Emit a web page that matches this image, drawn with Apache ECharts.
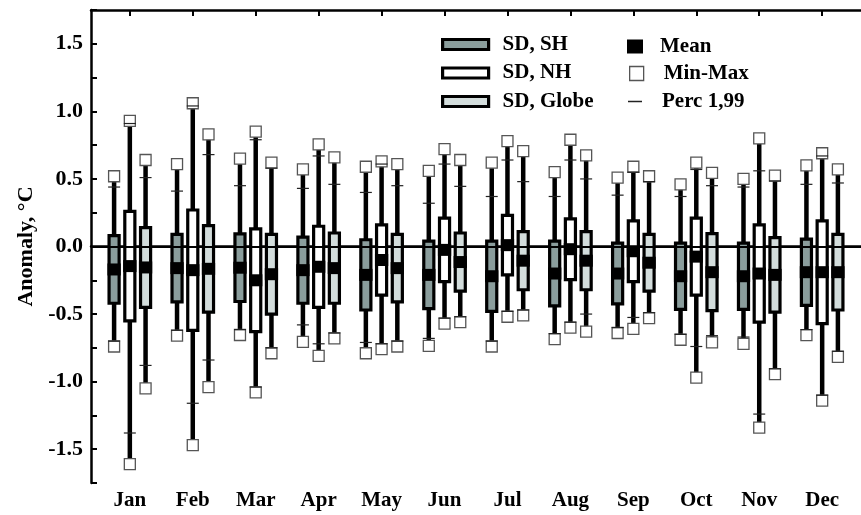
<!DOCTYPE html>
<html>
<head>
<meta charset="utf-8">
<script src="https://cdn.jsdelivr.net/npm/echarts@6/dist/echarts.min.js"></script>
<style>html,body{margin:0;padding:0;background:#fff;}#c{width:861px;height:515px;}</style>
</head>
<body>
<div id="c"></div>
<script>
// ---------- DATA ----------
const months = ['Jan','Feb','Mar','Apr','May','Jun','Jul','Aug','Sep','Oct','Nov','Dec'];
const yTicks = [-1.5,-1.0,-0.5,0.0,0.5,1.0,1.5];

const shMean = [-0.17,-0.16,-0.157,-0.175,-0.21,-0.21,-0.22,-0.20,-0.20,-0.22,-0.22,-0.19];
const shSD   = [0.25,0.25,0.25,0.245,0.26,0.25,0.26,0.24,0.225,0.245,0.245,0.245];
const shMax  = [0.52,0.61,0.65,0.57,0.59,0.56,0.62,0.55,0.51,0.46,0.50,0.60];
const shP99  = [0.44,0.41,0.45,0.43,0.40,0.32,0.37,0.37,0.38,0.37,0.44,0.46];
const shP1   = [-0.70,-0.62,-0.615,-0.58,-0.71,-0.68,-0.70,-0.645,-0.60,-0.65,-0.67,-0.615];
const shMin  = [-0.74,-0.66,-0.655,-0.705,-0.79,-0.735,-0.74,-0.685,-0.64,-0.69,-0.72,-0.656];

const nhMean = [-0.145,-0.175,-0.25,-0.15,-0.10,-0.025,0.01,-0.02,-0.035,-0.075,-0.20,-0.19];
const nhSD   = [0.405,0.445,0.38,0.30,0.26,0.235,0.22,0.225,0.225,0.285,0.36,0.38];
const nhMax  = [0.93,1.06,0.85,0.755,0.63,0.72,0.78,0.79,0.59,0.62,0.80,0.69];
const nhP99  = [0.91,1.04,0.79,0.67,0.61,0.61,0.64,0.64,0.55,0.57,0.56,0.67];
const nhP1   = [-1.38,-1.16,-1.04,-0.72,-0.72,-0.53,-0.48,-0.56,-0.525,-0.74,-1.24,-1.10];
const nhMin  = [-1.61,-1.47,-1.08,-0.81,-0.76,-0.57,-0.52,-0.60,-0.61,-0.97,-1.34,-1.14];

const glMean = [-0.155,-0.165,-0.205,-0.16,-0.16,-0.115,-0.105,-0.105,-0.12,-0.19,-0.21,-0.19];
const glSD   = [0.295,0.32,0.295,0.26,0.25,0.215,0.215,0.215,0.21,0.285,0.275,0.28];
const glMax  = [0.64,0.83,0.62,0.66,0.61,0.64,0.705,0.675,0.52,0.545,0.525,0.57];
const glP99  = [0.51,0.68,0.58,0.46,0.45,0.445,0.48,0.50,0.48,0.45,0.485,0.47];
const glP1   = [-0.88,-0.84,-0.75,-0.64,-0.70,-0.52,-0.47,-0.50,-0.49,-0.66,-0.905,-0.775];
const glMin  = [-1.05,-1.04,-0.79,-0.68,-0.74,-0.56,-0.51,-0.63,-0.53,-0.71,-0.945,-0.817];

// ---------- STYLE ----------
const FONT = "'Liberation Serif', 'DejaVu Serif', serif";
const fills = ['#8a9d9c', '#ffffff', '#d3dddc'];
const groupNames = ['SD, SH', 'SD, NH', 'SD, Globe'];
const groups = [
  {mean: shMean, sd: shSD, max: shMax, p99: shP99, p1: shP1, min: shMin},
  {mean: nhMean, sd: nhSD, max: nhMax, p99: nhP99, p1: nhP1, min: nhMin},
  {mean: glMean, sd: glSD, max: glMax, p99: glP99, p1: glP1, min: glMin}
];
const GROUP_SHIFT = 0.25;   // fraction of month spacing
const BOX_W = 0.16;         // fraction of month spacing

function centerX(api, m, g) {
  const band = api.size([1, 0])[0];
  return api.coord([m, 0])[0] + (g - 1) * GROUP_SHIFT * band;
}

function boxSeries(g) {
  const G = groups[g];
  return {
    type: 'custom', name: groupNames[g], z: 2,
    itemStyle: {color: fills[g]},
    data: months.map((_, i) => [i + 1, G.mean[i], G.sd[i], G.min[i], G.max[i]]),
    renderItem: function (params, api) {
      const m = api.value(0), mean = api.value(1), sd = api.value(2);
      const band = api.size([1, 0])[0];
      const xc = centerX(api, m, g);
      const yTop = api.coord([m, mean + sd])[1];
      const yBot = api.coord([m, mean - sd])[1];
      const yMin = api.coord([m, api.value(3)])[1];
      const yMax = api.coord([m, api.value(4)])[1];
      const bw = BOX_W * band;
      return {
        type: 'group',
        children: [
          {type: 'line', shape: {x1: xc, y1: yMin, x2: xc, y2: yMax}, style: {stroke: '#000', lineWidth: 4.5}},
          {type: 'rect', shape: {x: xc - bw / 2, y: yTop, width: bw, height: yBot - yTop},
           style: {fill: fills[g], stroke: '#000', lineWidth: 3.2}}
        ]
      };
    }
  };
}

const meanData = [], mmData = [], percData = [];
groups.forEach((G, g) => {
  months.forEach((_, i) => {
    meanData.push([i + 1, g, G.mean[i]]);
    mmData.push([i + 1, g, G.min[i]]);
    mmData.push([i + 1, g, G.max[i]]);
    percData.push([i + 1, g, G.p1[i]]);
    percData.push([i + 1, g, G.p99[i]]);
  });
});

const series = [boxSeries(0), boxSeries(1), boxSeries(2),
  {
    type: 'custom', name: 'Mean', z: 3, itemStyle: {color: '#000'}, data: meanData,
    renderItem: function (params, api) {
      const m = api.value(0), g = api.value(1);
      const xc = centerX(api, m, g);
      const y = api.coord([m, api.value(2)])[1];
      const w = BOX_W * api.size([1, 0])[0] + 3.2;
      return {type: 'rect', shape: {x: xc - w / 2, y: y - 6, width: w, height: 12}, style: {fill: '#000'}};
    }
  },
  {
    type: 'custom', name: 'Min-Max', z: 4, itemStyle: {color: '#fff'}, data: mmData,
    renderItem: function (params, api) {
      const m = api.value(0), g = api.value(1);
      const xc = centerX(api, m, g);
      const y = api.coord([m, api.value(2)])[1];
      return {type: 'rect', shape: {x: xc - 5.5, y: y - 5.5, width: 11, height: 11},
              style: {fill: '#fff', stroke: '#555', lineWidth: 1.3}};
    }
  },
  {
    type: 'custom', name: 'Perc 1,99', z: 5, itemStyle: {color: '#222'}, data: percData,
    renderItem: function (params, api) {
      const m = api.value(0), g = api.value(1);
      const xc = centerX(api, m, g);
      const y = api.coord([m, api.value(2)])[1];
      return {type: 'line', shape: {x1: xc - 6, y1: y, x2: xc + 6, y2: y}, style: {stroke: '#222', lineWidth: 1.2}};
    },
    markLine: {
      silent: true, symbol: 'none', z: 6,
      label: {show: false},
      lineStyle: {color: '#000', width: 2, type: 'solid'},
      data: [{yAxis: 0}]
    }
  }
];

const txt = {fontFamily: FONT, fontWeight: 'bold', fontSize: 21, color: '#000', lineHeight: 20};
const monthVals = months.map((_, i) => i + 1);

const option = {
  animation: false,
  backgroundColor: '#fff',
  grid: {left: 91, top: 10, width: 780, height: 473, containLabel: false},
  xAxis: [{
    type: 'value', min: 0.383, max: 12.617, position: 'bottom',
    axisLine: {lineStyle: {color: '#000', width: 2.5}},
    axisTick: {inside: true, length: 6, lineStyle: {color: '#000', width: 2}, customValues: monthVals},
    axisLabel: {customValues: monthVals, formatter: v => months[Math.round(v) - 1], margin: 7,
      fontFamily: FONT, fontWeight: 'bold', fontSize: 21, color: '#000'},
    splitLine: {show: false}
  }, {
    type: 'value', min: 0.383, max: 12.617, position: 'top',
    axisLine: {lineStyle: {color: '#000', width: 2.5}},
    axisTick: {inside: true, length: 6, lineStyle: {color: '#000', width: 2}, customValues: monthVals},
    axisLabel: {show: false},
    splitLine: {show: false}
  }],
  yAxis: {
    type: 'value', min: -1.75, max: 1.75, interval: 0.25,
    name: 'Anomaly, °C', nameLocation: 'middle', nameGap: 53, nameRotate: 90,
    nameTextStyle: {fontFamily: FONT, fontWeight: 'bold', fontSize: 22, color: '#000'},
    axisLine: {lineStyle: {color: '#000', width: 2.5}},
    axisTick: {inside: true, length: 6, lineStyle: {color: '#000', width: 2}},
    axisLabel: {margin: 8, fontFamily: FONT, fontWeight: 'bold', fontSize: 22, color: '#000',
      formatter: function (v) {
        const hit = yTicks.find(t => Math.abs(t - v) < 1e-6);
        return hit === undefined ? '' : hit.toFixed(1);
      }},
    splitLine: {show: false}
  },
  legend: [
    {
      left: 436, top: 29, orient: 'vertical', itemWidth: 46, itemHeight: 10, itemGap: 7.5,
      selectedMode: false,
      textStyle: Object.assign({padding: [0, 0, 0, 9]}, txt),
      data: groupNames.map((n, g) => ({name: n, icon: 'rect',
        itemStyle: {color: fills[g], borderColor: '#000', borderWidth: 3.2}}))
    },
    {
      left: 622, top: 31, itemWidth: 16, itemHeight: 14, selectedMode: false,
      textStyle: Object.assign({padding: [0, 0, 0, 12]}, txt),
      data: [{name: 'Mean', icon: 'rect', itemStyle: {color: '#000'}}]
    },
    {
      left: 624, top: 58, itemWidth: 14, itemHeight: 14, selectedMode: false,
      textStyle: Object.assign({padding: [0, 0, 0, 15]}, txt),
      data: [{name: 'Min-Max', icon: 'rect', itemStyle: {color: '#fff', borderColor: '#555', borderWidth: 1.3}}]
    },
    {
      left: 623, top: 86, itemWidth: 14, itemHeight: 1.5, selectedMode: false,
      textStyle: Object.assign({padding: [0, 0, 0, 15]}, txt),
      data: [{name: 'Perc 1,99', icon: 'rect', itemStyle: {color: '#222'}}]
    }
  ],
  series: series
};

const chart = echarts.init(document.getElementById('c'), null, {renderer: 'canvas'});
chart.setOption(option);
</script>
</body>
</html>
